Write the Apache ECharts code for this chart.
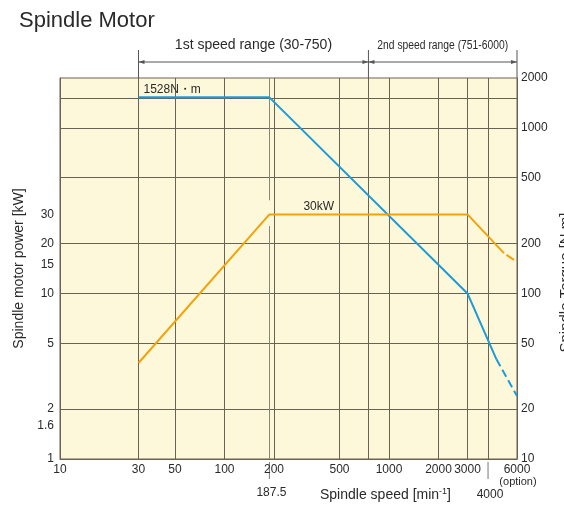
<!DOCTYPE html>
<html>
<head>
<meta charset="utf-8">
<script src="https://cdn.jsdelivr.net/npm/echarts@6/dist/echarts.min.js"></script>
<style>
  html, body { margin: 0; padding: 0; background: #fff; }
  #chart { width: 564px; height: 505px; }
</style>
</head>
<body>
<div id="chart"></div>
<script>
// axis ticks / labels
var speedLabels = [10, 30, 50, 100, 200, 500, 1000, 2000, 3000, 6000];
var speedGrid = [30, 50, 100, 200, 500, 750, 1000, 2000, 3000, 4000];
var powerLabels = [1, 1.6, 2, 5, 10, 15, 20, 30];
var torqueLabels = [10, 20, 50, 100, 200, 500, 1000, 2000];
var torqueGrid = [20, 50, 100, 200, 500, 1000, 1500];

// [speed min-1, power kW]
var powerSolid = [[30, 3.8], [187.5, 30], [3000, 30], [5000, 17.5]];
var powerOption = [[5000, 17.5], [6000, 15.5]];
// [speed min-1, torque N.m]
var torqueSolid = [[30, 1528], [187.5, 1528], [3000, 100], [4500, 40]];
var torqueOption = [[4500, 40], [6000, 24]];

var BLUE = '#1c9bd7';
var ORANGE = '#f2a20c';
var GRID = '#6a6252';
var TXT = '#2a2a2a';
var FONT = 'Liberation Sans, Arial, sans-serif';

function plain(v) { return String(v); }

var chart = echarts.init(document.getElementById('chart'));

var option = {
  animation: false,
  title: {
    text: 'Spindle Motor',
    left: 14,
    top: 5,
    textStyle: { color: TXT, fontWeight: 'normal', fontSize: 22, fontFamily: FONT }
  },
  grid: {
    show: true,
    left: 60,
    right: 47,
    top: 78,
    bottom: 46,
    outerBoundsMode: 'none',
    containLabel: false,
    backgroundColor: '#fdf8d9',
    borderColor: GRID,
    borderWidth: 1
  },
  xAxis: {
    type: 'log',
    logBase: 10,
    min: 10,
    max: 6000,
    axisLine: { lineStyle: { color: GRID } },
    axisTick: { show: false, customValues: speedGrid },
    splitLine: { show: true, lineStyle: { color: GRID, width: 1 } },
    axisLabel: {
      customValues: speedLabels,
      formatter: plain,
      color: TXT,
      fontSize: 12,
      fontFamily: FONT,
      margin: 5,
      showMinLabel: true,
      showMaxLabel: true
    }
  },
  yAxis: [{
    type: 'log',
    logBase: 10,
    min: 1,
    max: 200,
    position: 'left',
    name: 'Spindle motor power [kW]',
    nameLocation: 'middle',
    nameGap: 28,
    nameTextStyle: { color: TXT, fontSize: 14, fontFamily: FONT },
    axisLine: { show: true, lineStyle: { color: GRID } },
    axisTick: { show: false },
    splitLine: { show: false },
    axisLabel: { customValues: powerLabels, formatter: plain, color: TXT, fontSize: 12, fontFamily: FONT, margin: 6 }
  }, {
    type: 'log',
    logBase: 10,
    min: 10,
    max: 2000,
    position: 'right',
    name: 'Spindle Torque [N.m]',
    nameLocation: 'middle',
    nameGap: 14,
    nameTextStyle: { color: TXT, fontSize: 15, fontFamily: FONT, padding: [0, 28, 0, 0] },
    axisLine: { show: true, lineStyle: { color: GRID } },
    axisTick: { show: false, customValues: torqueGrid },
    splitLine: { show: true, lineStyle: { color: GRID, width: 1 } },
    axisLabel: { customValues: torqueLabels, formatter: plain, color: TXT, fontSize: 12, fontFamily: FONT, margin: 4 }
  }],
  series: [{
    name: 'torque',
    type: 'line',
    yAxisIndex: 1,
    data: torqueSolid,
    symbol: 'none',
    lineStyle: { color: BLUE, width: 2 },
    z: 5,
    markLine: {
      silent: true,
      symbol: 'none',
      label: { show: false },
      lineStyle: { color: '#8a8578', width: 1, type: 'solid' },
      data: [
        [{ coord: [187.5, 10] }, { coord: [187.5, 255] }],
        [{ coord: [187.5, 365] }, { coord: [187.5, 2000] }]
      ]
    }
  }, {
    name: 'torque option',
    type: 'line',
    yAxisIndex: 1,
    data: torqueOption,
    symbol: 'none',
    lineStyle: { color: BLUE, width: 2, type: [8, 4] },
    z: 5
  }, {
    name: 'power',
    type: 'line',
    yAxisIndex: 0,
    data: powerSolid,
    symbol: 'none',
    lineStyle: { color: ORANGE, width: 2 },
    z: 5
  }, {
    name: 'power option',
    type: 'line',
    yAxisIndex: 0,
    data: powerOption,
    symbol: 'none',
    lineStyle: { color: ORANGE, width: 2, type: [0, 3, 9, 3] },
    z: 5
  }]
};

chart.setOption(option);

// annotations placed from the chart's own scales
function px(v) { return chart.convertToPixel({ xAxisIndex: 0 }, v); }
function pyT(v) { return chart.convertToPixel({ yAxisIndex: 1 }, v); }

var x30 = px(30), x750 = px(750), x6000 = px(6000), x187 = px(187.5), x4000 = px(4000);
var yTop = pyT(2000), yBot = pyT(10);
var lineY = 62;

function seg(x1, y1, x2, y2, color) {
  return { type: 'line', shape: { x1: x1, y1: y1, x2: x2, y2: y2 }, style: { stroke: color || '#555', lineWidth: 1 }, silent: true };
}
function arrow(x, dir) {
  return {
    type: 'polygon',
    shape: { points: [[x, lineY], [x + dir * 6, lineY - 2], [x + dir * 6, lineY + 2]] },
    style: { fill: '#555' }, silent: true
  };
}
function txt(x, y, text, size, align, extra) {
  var t = { type: 'text', x: x, y: y, silent: true,
    style: { text: text, fill: TXT, font: size + 'px ' + FONT, textAlign: align || 'center', textVerticalAlign: 'middle' } };
  if (extra) { for (var k in extra) t[k] = extra[k]; }
  return t;
}

var graphics = [
  seg(x30, 50, x30, yTop), seg(x750, 50, x750, yTop), seg(x6000, 50, x6000, yTop),
  seg(x30, lineY, x6000, lineY),
  arrow(x30, 1), arrow(x750, -1), arrow(x750, 1), arrow(x6000, -1),
  txt((x30 + x750) / 2, 45, '1st speed range (30-750)', 14),
  txt((x750 + x6000) / 2, 46, '2nd speed range (751-6000)', 12, 'center', { scaleX: 0.86 }),
  seg(x187, yBot + 3, x187, yBot + 20, '#777'),
  txt(x187 + 2, 493, '187.5', 12),
  seg(x4000, yBot + 3, x4000, yBot + 20, '#777'),
  txt(x4000 + 2, 495, '4000', 12),
  txt(x6000 + 1, 482, '(option)', 11),
  txt(x30 + 5, pyT(1528) - 8, '1528N・m', 12, 'left'),
  txt(x187 + 34, chart.convertToPixel({ yAxisIndex: 0 }, 30) - 8, '30kW', 12, 'left'),
  {
    type: 'text', x: 320, y: 495, silent: true,
    style: {
      text: 'Spindle speed [min{sup|-1}]',
      fill: TXT, font: '14px ' + FONT, textVerticalAlign: 'middle',
      rich: { sup: { fontSize: 9, fill: TXT, fontFamily: FONT, verticalAlign: 'top', padding: [0, 0, 6, 0] } }
    }
  }
];

chart.setOption({ graphic: graphics });
</script>
</body>
</html>
